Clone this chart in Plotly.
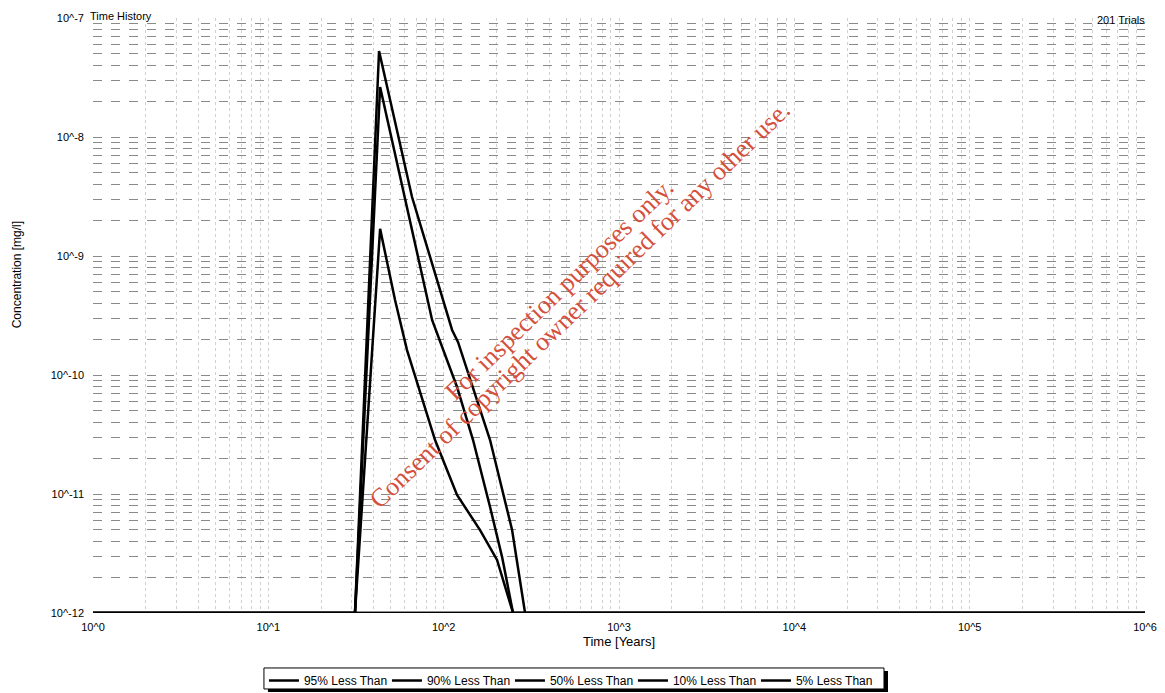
import plotly.graph_objects as go

# ---------------- data ----------------
series_names = ["95% Less Than", "90% Less Than", "50% Less Than", "10% Less Than", "5% Less Than"]

t95 = [1, 31.2, 42.8, 66.0, 111.7, 120.8, 183.9, 245.6, 291.3, 1e6]
c95 = [1e-12, 1e-12, 5.28e-8, 3.13e-9, 2.39e-10, 1.89e-10, 2.84e-11, 4.98e-12, 1e-12, 1e-12]

t90 = [1, 31.2, 43.4, 85.9, 119.2, 147.1, 183.9, 215.4, 248.8, 1e6]
c90 = [1e-12, 1e-12, 2.63e-8, 2.90e-10, 7.93e-11, 2.84e-11, 7.78e-12, 2.95e-12, 1e-12, 1e-12]

t50 = [1, 31.2, 43.4, 52.8, 61.8, 89.3, 119.2, 161.3, 201.6, 248.8, 1e6]
c50 = [1e-12, 1e-12, 1.69e-9, 4.27e-10, 1.62e-10, 2.84e-11, 9.81e-12, 4.98e-12, 2.79e-12, 1e-12, 1e-12]

t10 = [1, 1e6]
c10 = [1e-12, 1e-12]

t5 = [1, 1e6]
c5 = [1e-12, 1e-12]

x_tickvals = [1, 10, 100, 1000, 1e4, 1e5, 1e6]
x_ticktext = ["10^0", "10^1", "10^2", "10^3", "10^4", "10^5", "10^6"]
y_tickvals = [1e-12, 1e-11, 1e-10, 1e-9, 1e-8, 1e-7]
y_ticktext = ["10^-12", "10^-11", "10^-10", "10^-9", "10^-8", "10^-7"]

# ---------------- figure ----------------
FONT = "Liberation Sans, Arial, sans-serif"
SERIF = "Liberation Serif, Times New Roman, serif"
fig = go.Figure()
for name, t, c in zip(series_names, [t95, t90, t50, t10, t5], [c95, c90, c50, c10, c5]):
    fig.add_trace(go.Scatter(x=t, y=c, mode="lines", name=name,
                             line=dict(color="black", width=2.5)))

fig.update_layout(
    width=1165, height=693,
    margin=dict(l=93, r=20, t=18, b=80, autoexpand=False),
    paper_bgcolor="white", plot_bgcolor="white",
    font=dict(family=FONT, size=11, color="black"),
    showlegend=True,
    legend=dict(orientation="h", x=0.1625, xanchor="left", y=-0.0891, yanchor="top",
                borderwidth=0, bgcolor="rgba(0,0,0,0)",
                font=dict(family=FONT, size=12, color="black"),
                itemwidth=30, tracegroupgap=0, entrywidth=78, entrywidthmode="pixels"),
)

fig.update_xaxes(type="log", range=[0, 6], tickvals=x_tickvals, ticktext=x_ticktext, automargin=False,
                 showline=False, zeroline=False, ticks="", ticklabelstandoff=6,
                 showgrid=True, gridcolor="#d0d0d0", griddash="dot", gridwidth=1,
                 minor=dict(dtick="D1", showgrid=True, gridcolor="#d0d0d0", griddash="dot", gridwidth=1, ticks=""),
                 tickfont=dict(family=FONT, size=11, color="black"))
fig.update_yaxes(type="log", range=[-12, -7], tickvals=y_tickvals, ticktext=y_ticktext, automargin=False,
                 showline=False, zeroline=False, ticks="", ticklabelstandoff=8,
                 showgrid=True, gridcolor="#8a8a8a", griddash="dash", gridwidth=1,
                 minor=dict(dtick="D1", showgrid=True, gridcolor="#8a8a8a", griddash="dash", gridwidth=1, ticks=""),
                 tickfont=dict(family=FONT, size=11, color="black"))

# legend frame with drop shadow (thick right/bottom border of the original legend box)
fig.add_shape(type="rect", xref="paper", yref="paper",
              x0=0.1663, x1=0.7557, y0=-0.0975, y1=-0.1328,
              fillcolor="black", line=dict(width=0), layer="above")
fig.add_shape(type="rect", xref="paper", yref="paper",
              x0=0.1625, x1=0.7519, y0=-0.0924, y1=-0.1277,
              fillcolor="white", line=dict(color="black", width=1), layer="above")

annots = [
    dict(text="Time History", x=-0.005, y=1.0, xref="paper", yref="paper", xanchor="left", yanchor="bottom",
         showarrow=False, font=dict(family=FONT, size=11, color="black"), yshift=-6),
    dict(text="201 Trials", x=1.0, y=1.0, xref="paper", yref="paper", xanchor="right", yanchor="bottom",
         showarrow=False, font=dict(family=FONT, size=11, color="black"), yshift=-10, xshift=2),
    dict(text="Time [Years]", x=0.5, y=-0.048, xref="paper", yref="paper", xanchor="center", yanchor="middle",
         showarrow=False, font=dict(family=FONT, size=13, color="black")),
    dict(text="Concentration [mg/l]", x=-0.072, y=0.568, xref="paper", yref="paper", xanchor="center", yanchor="middle",
         textangle=-90, showarrow=False, font=dict(family=FONT, size=12, color="black")),
    dict(text="For inspection purposes only.", x=0.443, y=0.5445, xref="paper", yref="paper",
         xanchor="center", yanchor="middle", textangle=-44, showarrow=False,
         font=dict(family=SERIF, size=26, color="#d5503c")),
    dict(text="Consent of copyright owner required for any other use.", x=0.4629, y=0.5193, xref="paper", yref="paper",
         xanchor="center", yanchor="middle", textangle=-44, showarrow=False,
         font=dict(family=SERIF, size=26, color="#d5503c")),
]
fig.update_layout(annotations=annots)

fig.write_html("out.html", config={"responsive": False, "displayModeBar": False},
               post_script="document.body.style.margin='0';document.body.style.overflow='hidden';")
